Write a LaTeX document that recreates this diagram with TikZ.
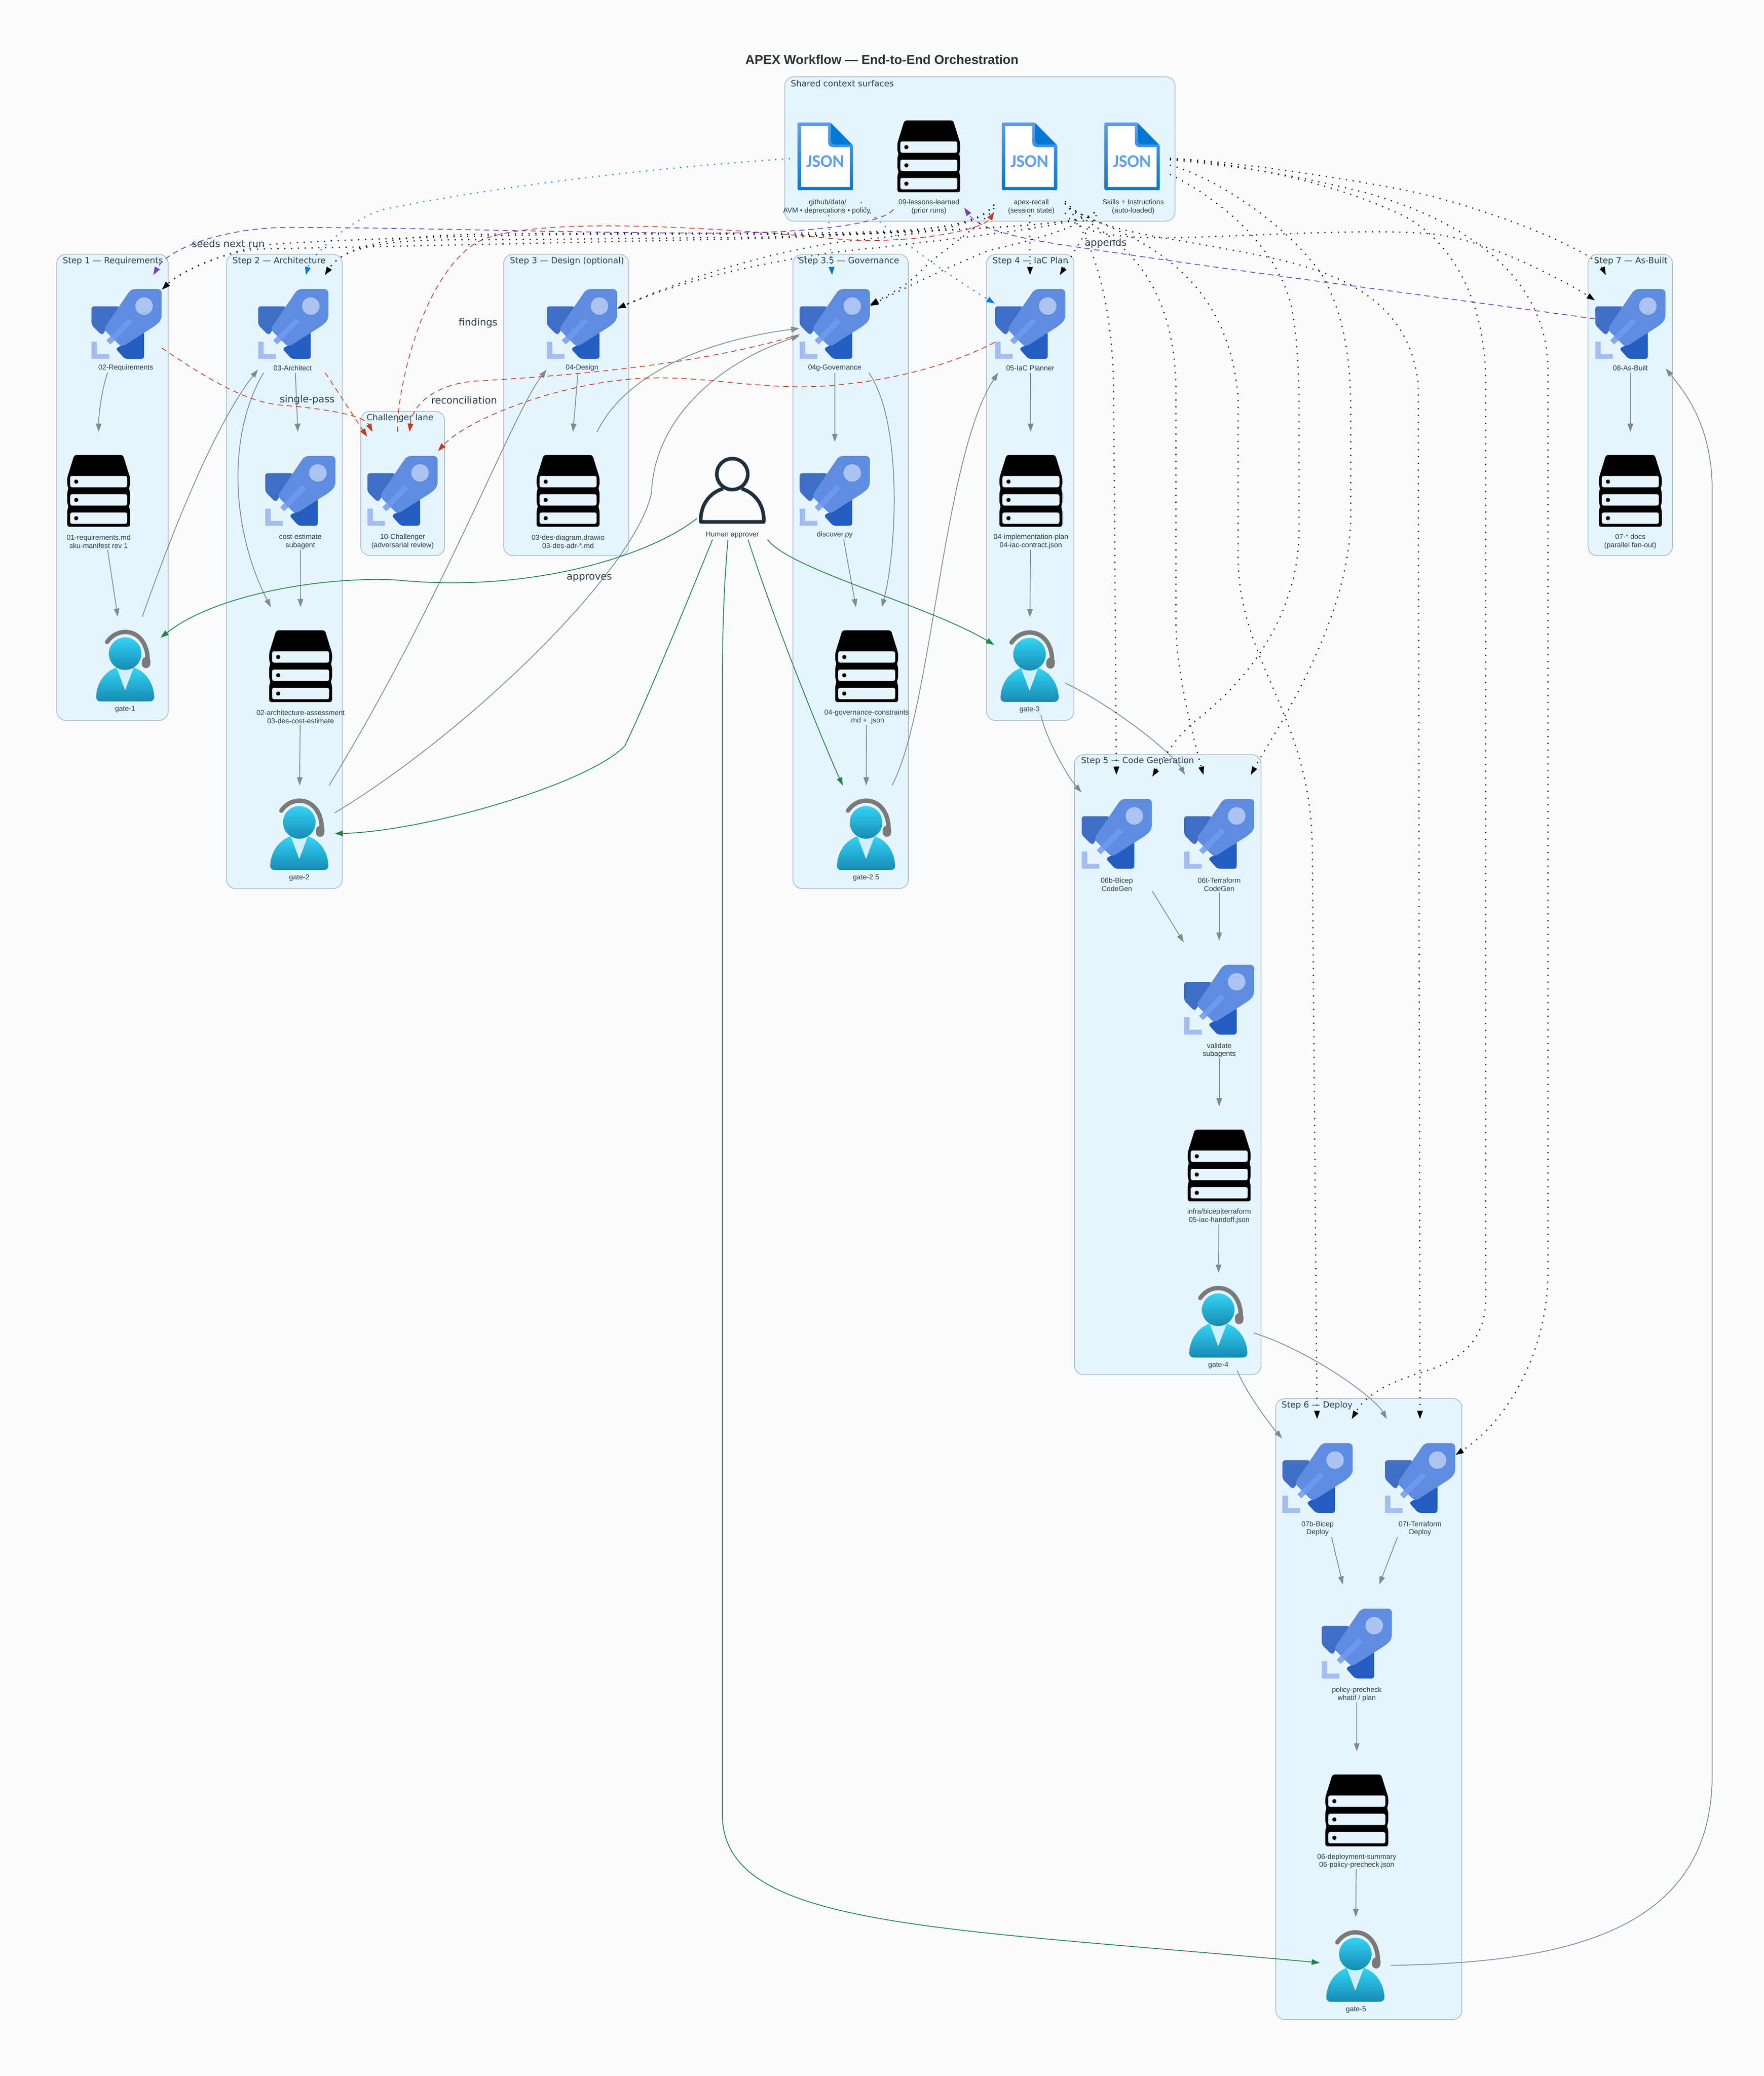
\documentclass[tikz,border=0pt]{standalone}
\usepackage{fontspec}
\setmainfont{Liberation Sans}
\newfontfamily\dejavu{DejaVu Sans}
\newfontfamily\carlito{Carlito}
\usetikzlibrary{arrows.meta}
\definecolor{pagebg}{HTML}{FBFCFD}
\definecolor{lanefill}{HTML}{E5F4FD}
\definecolor{laneline}{HTML}{AEBAC4}
\definecolor{inkdark}{HTML}{2C3E50}
\definecolor{headink}{HTML}{2B3033}
\definecolor{flowgray}{HTML}{7F8C8D}
\definecolor{okgreen}{HTML}{1E8449}
\definecolor{redline}{HTML}{C43A22}
\definecolor{purpleline}{HTML}{6F42C1}
\definecolor{blueline}{HTML}{0078D4}
\tikzset{
  rocketfig/.pic={
    \begin{scope}[x=.0917pt,y=-.0917pt,shift={(-319,-317)}]
      \fill[rounded corners=2pt,fill={rgb,255:red,62;green,110;blue,197}] (30,172) -- (260,172) -- (130,395) -- (113,408) -- (30,325) -- cycle;
      \fill[rounded corners=2pt,fill={rgb,255:red,35;green,93;blue,191}] (463,380) -- (463,605) -- (305,605) -- (228,520) -- (380,440) -- cycle;
      \fill[rounded corners=3pt,fill={rgb,255:red,93;green,140;blue,224}] (355,30) -- (608,30) -- (608,280) -- (565,325) -- (278,508) -- (130,360) -- cycle;
      \fill[fill={rgb,255:red,171;green,195;blue,240}] (463,170) circle[radius=6.6pt];
      \fill[fill={rgb,255:red,108;green,153;blue,238}] (335,270) -- (370,300) -- (218,455) -- (185,420) -- cycle;
      \fill[fill={rgb,255:red,134;green,168;blue,236}] (185,420) -- (218,455) -- (185,485) -- (153,452) -- cycle;
      \fill[fill={rgb,255:red,163;green,189;blue,240}] (30,463) -- (75,463) -- (75,565) -- (175,565) -- (175,605) -- (30,605) -- cycle;
    \end{scope}
  },
  serverfig/.pic={
    \begin{scope}[x=.092pt,y=-.092pt,shift={(-1120,-322)}]
      \fill[black,rounded corners=1.6pt] (920,28) -- (1320,28) -- (1378,215) -- (1378,280) -- (1366,298) -- (1378,330) -- (1378,425) -- (1366,448) -- (1378,480) -- (1378,617) -- (862,617) -- (862,480) -- (874,448) -- (862,425) -- (862,330) -- (874,298) -- (862,280) -- (862,215) -- cycle;
      \fill[lanefill,rounded corners=1.4pt] (886,200) rectangle (1354,293);
      \fill[lanefill,rounded corners=1.4pt] (886,350) rectangle (1354,443);
      \fill[lanefill,rounded corners=1.4pt] (886,500) rectangle (1354,593);
      \fill[black] (936,247) circle[radius=1.6pt];
      \fill[black] (936,397) circle[radius=1.6pt];
      \fill[black] (936,547) circle[radius=1.6pt];
    \end{scope}
  },
  jsonfig/.pic={
    \begin{scope}[x=.092pt,y=-.092pt,shift={(-268,-325)}]
      \shade[top color={rgb,255:red,94;green,160;blue,239},bottom color=blueline,rounded corners=1pt] (40,48) -- (312,48) -- (495,235) -- (495,603) -- (40,603) -- cycle;
      \fill[white] (68,76) -- (290,76) -- (290,210) .. controls (290,235) and (305,250) .. (330,250) -- (468,250) -- (468,577) -- (68,577) -- cycle;
      \fill[blueline] (314,56) -- (486,228) -- (345,228) .. controls (325,228) and (314,215) .. (314,195) -- cycle;
    \end{scope}
  },
  gatefig/.pic={
    \begin{scope}[x=.092pt,y=-.092pt,shift={(-308,-366)}]
      \draw[line width=3.3pt,line cap=round,color={rgb,255:red,122;green,122;blue,122}] (160,172) .. controls (200,115) and (255,90) .. (310,90) .. controls (420,90) and (493,190) .. (493,320);
      \draw[line width=6.4pt,line cap=round,color={rgb,255:red,122;green,122;blue,122}] (481,330) -- (479,352);
      \shade[top color={rgb,255:red,50;green,212;blue,245},bottom color={rgb,255:red,25;green,138;blue,179}] (70,620) .. controls (75,500) and (150,410) .. (238,382) -- (378,382) .. controls (470,410) and (540,500) .. (547,620) .. controls (550,645) and (530,660) .. (510,660) -- (105,660) .. controls (85,660) and (68,645) .. (70,620) -- cycle;
      \fill[fill={rgb,255:red,207;green,241;blue,251}] (238,382) -- (378,382) -- (308,568) -- cycle;
      \shade[top color={rgb,255:red,50;green,212;blue,245},bottom color={rgb,255:red,25;green,138;blue,179}] (308,268) circle[radius=12.3pt];
    \end{scope}
  },
  humanfig/.pic={
    \draw[line width=2.7pt,color={rgb,255:red,31;green,45;blue,61}] (0,-12.6) circle[radius=11.7pt];
    \draw[line width=2.7pt,color={rgb,255:red,31;green,45;blue,61},line join=round] (-7,-1.6) .. controls (-17,1.4) and (-23.8,10.4) .. (-23.8,22) -- (-23.8,23.5) -- (23.8,23.5) -- (23.8,22) .. controls (23.8,10.4) and (17,1.4) .. (7,-1.6);
  }
}
\begin{document}
\begin{tikzpicture}[x=1pt,y=-1pt,
  lane/.style={rectangle,draw=laneline,fill=lanefill,line width=.55pt,rounded corners=7pt,
    inner sep=0,outer sep=0},
  lanetitle/.style={anchor=west,inner sep=0,text=inkdark,font=\dejavu\fontsize{6.4}{7.6}\selectfont},
  edgetext/.style={inner sep=0,text=inkdark,font=\dejavu\fontsize{7.4}{8.8}\selectfont},
  iconcap/.style={inner sep=0,align=center,text=inkdark,font=\fontsize{5.4}{6.1}\selectfont},
  mainhead/.style={inner sep=0,text=headink,font=\bfseries\fontsize{9.7}{12}\selectfont},
  jsonmark/.style={inner sep=0,text={rgb,255:red,94;green,160;blue,239},font=\carlito\bfseries\fontsize{13.4}{15}\selectfont},
  iconbox/.style={rectangle,inner sep=0,outer sep=0,minimum width=53.5pt,minimum height=73.7pt},
  tall/.style={minimum height=89pt},
  rocket/.style={iconbox,path picture={\pic at (path picture bounding box.center) {rocketfig};}},
  server/.style={iconbox,path picture={\pic at (path picture bounding box.center) {serverfig};}},
  jsonfile/.style={iconbox,path picture={\pic at (path picture bounding box.center) {jsonfig};}},
  gate/.style={iconbox,path picture={\pic at (path picture bounding box.center) {gatefig};}},
  person/.style={iconbox,path picture={\pic at (path picture bounding box.center) {humanfig};}},
  flow/.style={draw=flowgray,line width=.6pt,-{Triangle[length=6.2pt,width=4.2pt]}},
  approve/.style={draw=okgreen,line width=.6pt,-{Triangle[length=6.2pt,width=4.2pt]}},
  challenge/.style={draw=redline,line width=.55pt,dash pattern=on 4pt off 3pt,-{Triangle[length=6.2pt,width=4.2pt]}},
  learn/.style={draw=purpleline,line width=.6pt,dash pattern=on 4pt off 3pt,-{Triangle[length=6.2pt,width=4.2pt]}},
  loaded/.style={draw=black,line width=.85pt,dash pattern=on .85pt off 4.3pt,-{Triangle[length=6.2pt,width=4.2pt]}},
  feed/.style={draw=blueline,line width=.85pt,dash pattern=on .85pt off 4.3pt,-{Triangle[length=6.2pt,width=4.2pt]}}]
  \useasboundingbox (0,0) rectangle (1332,1567.6);
  \fill[pagebg] (0,0) rectangle (1332,1567.6);
  \node[mainhead] (title) at (666,45) {APEX Workflow — End-to-End Orchestration};

  \node[lane,minimum width=294.8pt,minimum height=109pt] (shared) at (740,112.5) {};
  \node[lane,minimum width=84.2pt,minimum height=352pt] (stepone) at (84.9,368) {};
  \node[lane,minimum width=87.5pt,minimum height=479pt] (steptwo) at (214.75,431.5) {};
  \node[lane,minimum width=63.4pt,minimum height=109pt] (challane) at (304.1,365.1) {};
  \node[lane,minimum width=94.4pt,minimum height=227.6pt] (stepthree) at (427.6,305.8) {};
  \node[lane,minimum width=87.2pt,minimum height=479pt] (stepgov) at (642.4,431.5) {};
  \node[lane,minimum width=66pt,minimum height=352pt] (stepfour) at (778,368) {};
  \node[lane,minimum width=63.9pt,minimum height=227.6pt] (stepseven) at (1231.15,305.8) {};
  \node[lane,minimum width=140.9pt,minimum height=468.2pt] (stepfive) at (881.85,803.9) {};
  \node[lane,minimum width=140.6pt,minimum height=469pt] (stepsix) at (1033.7,1290.5) {};

  \node[lanetitle] (sharedt) at (597,63) {Shared context surfaces};
  \node[lanetitle] (steponet) at (47.2,197.3) {Step 1 — Requirements};
  \node[lanetitle] (steptwot) at (175.4,197.3) {Step 2 — Architecture};
  \node[lanetitle] (challanet) at (276.7,315.6) {Challenger lane};
  \node[lanetitle] (stepthreet) at (384.8,197.3) {Step 3 — Design (optional)};
  \node[lanetitle] (stepgovt) at (603,197.3) {Step 3.5 — Governance};
  \node[lanetitle] (stepfourt) at (749.4,197.3) {Step 4 — IaC Plan};
  \node[lanetitle] (stepsevent) at (1203.6,197.3) {Step 7 — As-Built};
  \node[lanetitle] (stepfivet) at (816.2,574.6) {Step 5 — Code Generation};
  \node[lanetitle] (stepsixt) at (967.7,1061.2) {Step 6 — Deploy};

  \node[jsonfile,tall] (data) at (623.3,118) {};
  \node[server,tall] (lessons) at (701.4,118) {};
  \node[jsonfile,tall] (recall) at (777.5,118) {};
  \node[jsonfile,tall,minimum width=57pt] (skills) at (855,118) {};
  \node[jsonmark] (datamark) at (623.3,121.7) {JSON};
  \node[jsonmark] (recallmark) at (777.5,121.7) {JSON};
  \node[jsonmark] (skillsmark) at (855,121.7) {JSON};
  \node[iconcap] (datacap) at (624.3,156.1) {.github/data/\\AVM • deprecations • policy};
  \node[iconcap] (lessonscap) at (701.5,156.1) {09-lessons-learned\\(prior runs)};
  \node[iconcap] (recallcap) at (778.8,156.1) {apex-recall\\(session state)};
  \node[iconcap] (skillscap) at (855.8,156.1) {Skills + Instructions\\(auto-loaded)};

  \node[rocket] (req) at (95.6,244.6) {};
  \node[iconcap] (reqcap) at (95,277.8) {02-Requirements};
  \node[server,tall] (reqdoc) at (74.5,370.6) {};
  \node[iconcap] (reqdoccap) at (74.5,408.9) {01-requirements.md\\sku-manifest rev 1};
  \node[gate] (gateone) at (94.5,502.6) {};
  \node[iconcap] (gateonecap) at (94.5,535.6) {gate-1};

  \node[rocket] (arch) at (221.5,244.6) {};
  \node[iconcap] (archcap) at (221,277.8) {03-Architect};
  \node[rocket,tall] (cost) at (226.8,370.6) {};
  \node[iconcap] (costcap) at (226.8,408.9) {cost-estimate\\subagent};
  \node[server,tall,minimum width=64pt] (archdoc) at (227,503) {};
  \node[iconcap] (archdoccap) at (227,541.3) {02-architecture-assessment\\03-des-cost-estimate};
  \node[gate] (gatetwo) at (226,630) {};
  \node[iconcap] (gatetwocap) at (226,663) {gate-2};

  \node[rocket,tall] (chall) at (304,370.6) {};
  \node[iconcap] (challcap) at (304,408.9) {10-Challenger\\(adversarial review)};

  \node[rocket] (design) at (439.5,244.6) {};
  \node[iconcap] (designcap) at (439.5,277.8) {04-Design};
  \node[server,tall] (designdoc) at (429,370.6) {};
  \node[iconcap] (designdoccap) at (429,408.9) {03-des-diagram.drawio\\03-des-adr-*.md};

  \node[person] (human) at (553,370.6) {};
  \node[iconcap] (humancap) at (553,404) {Human approver};

  \node[rocket] (gov) at (630.4,244.6) {};
  \node[iconcap] (govcap) at (630.4,277.8) {04g-Governance};
  \node[rocket] (discover) at (630.4,370.6) {};
  \node[iconcap] (discovercap) at (630.4,403.8) {discover.py};
  \node[server,tall,minimum width=64pt] (govdoc) at (654.5,503) {};
  \node[iconcap] (govdoccap) at (654.5,541.3) {04-governance-constraints\\.md + .json};
  \node[gate] (gatetwofive) at (654,630) {};
  \node[iconcap] (gatetwofivecap) at (654,663) {gate-2.5};

  \node[rocket] (iac) at (778,244.6) {};
  \node[iconcap] (iaccap) at (778,277.8) {05-IaC Planner};
  \node[server,tall] (iacdoc) at (778.5,370.6) {};
  \node[iconcap] (iacdoccap) at (778.5,408.9) {04-implementation-plan\\04-iac-contract.json};
  \node[gate] (gatethree) at (777.5,503) {};
  \node[iconcap] (gatethreecap) at (777.5,536) {gate-3};

  \node[rocket] (asbuilt) at (1231.2,244.6) {};
  \node[iconcap] (asbuiltcap) at (1231.2,277.8) {08-As-Built};
  \node[server,tall] (asbuiltdoc) at (1231.2,370.6) {};
  \node[iconcap] (asbuiltdoccap) at (1231.2,408.9) {07-* docs\\(parallel fan-out)};

  \node[rocket,tall] (bicgen) at (843.4,629.6) {};
  \node[iconcap] (bicgencap) at (843.4,667.9) {06b-Bicep\\CodeGen};
  \node[rocket,tall] (tfgen) at (920.7,629.6) {};
  \node[iconcap] (tfgencap) at (920.7,667.9) {06t-Terraform\\CodeGen};
  \node[rocket,tall] (validate) at (920.7,754.8) {};
  \node[iconcap] (validatecap) at (920.7,793.1) {validate\\subagents};
  \node[server,tall] (infradoc) at (920.7,880) {};
  \node[iconcap] (infradoccap) at (920.7,918.3) {infra/bicep|terraform\\05-iac-handoff.json};
  \node[gate] (gatefour) at (920,998) {};
  \node[iconcap] (gatefourcap) at (920,1031) {gate-4};

  \node[rocket,tall] (bicdep) at (995,1116) {};
  \node[iconcap] (bicdepcap) at (995,1154.3) {07b-Bicep\\Deploy};
  \node[rocket,tall] (tfdep) at (1072.4,1116) {};
  \node[iconcap] (tfdepcap) at (1072.4,1154.3) {07t-Terraform\\Deploy};
  \node[rocket,tall] (policy) at (1024.6,1241) {};
  \node[iconcap] (policycap) at (1024.6,1279.3) {policy-precheck\\whatif / plan};
  \node[server,tall] (deploydoc) at (1024.6,1367) {};
  \node[iconcap] (deploydoccap) at (1024.6,1405.3) {06-deployment-summary\\06-policy-precheck.json};
  \node[gate] (gatefive) at (1023.5,1484.5) {};
  \node[iconcap] (gatefivecap) at (1024,1517.5) {gate-5};

  \draw[flow] (req) .. controls (78,290) and (74.5,310) .. (reqdoc);
  \draw[flow] (reqdoc) -- (gateone);
  \draw[flow] (gateone) .. controls (132,396) and (163,320) .. (arch);
  \draw[flow] (arch) -- (cost);
  \draw[flow] (arch) .. controls (172.8,325) and (172.8,396) .. (archdoc);
  \draw[flow] (cost) -- (archdoc);
  \draw[flow] (archdoc) -- (gatetwo);
  \draw[flow] (gatetwo) .. controls (336,450) and (386.5,313) .. (design);
  \draw[flow] (design) -- (designdoc);
  \draw[flow] (designdoc) .. controls (474,279) and (540,256) .. (gov);
  \draw[flow] (gatetwo) .. controls (355,552) and (480,430) .. (492,372) .. controls (494,318) and (540,275) .. (gov);
  \draw[flow] (gov) -- (discover);
  \draw[flow] (gov) .. controls (681.6,318) and (677.5,414) .. (govdoc);
  \draw[flow] (discover) -- (govdoc);
  \draw[flow] (govdoc) -- (gatetwofive);
  \draw[flow] (gatetwofive) .. controls (704,536) and (712,345) .. (iac);
  \draw[flow] (iac) -- (iacdoc);
  \draw[flow] (iacdoc) -- (gatethree);
  \draw[flow] (gatethree) .. controls (840,532.7) and (885,568) .. (tfgen);
  \draw[flow] (gatethree) .. controls (790.3,558.5) and (805.6,585.4) .. (bicgen);
  \draw[flow] (bicgen) -- (validate);
  \draw[flow] (tfgen) -- (validate);
  \draw[flow] (validate) -- (infradoc);
  \draw[flow] (infradoc) -- (gatefour);
  \draw[flow] (gatefour) .. controls (989.5,1020) and (1037.8,1054.8) .. (tfdep);
  \draw[flow] (gatefour) .. controls (941,1052) and (960.5,1077.4) .. (bicdep);
  \draw[flow] (bicdep) -- (policy);
  \draw[flow] (tfdep) -- (policy);
  \draw[flow] (policy) -- (deploydoc);
  \draw[flow] (deploydoc) -- (gatefive);
  \draw[flow] (gatefive) .. controls (1180,1482) and (1293,1460) .. (1293,1340) -- (1293,370) .. controls (1293,320) and (1271,294.7) .. (asbuilt);
  \draw[flow] (asbuilt) -- (asbuiltdoc);

  \draw[approve] (human) .. controls (490,420) and (400,448) .. (300,438) .. controls (245,435) and (163,448.6) .. (gateone);
  \draw[approve] (human) .. controls (520,452) and (490,525) .. (472,563) .. controls (445,592) and (320,628) .. (gatetwo);
  \draw[approve] (human) .. controls (546.4,445) and (545.5,480) .. (545.5,520) -- (545.5,1370) .. controls (545.5,1455) and (700,1455) .. (gatefive);
  \draw[approve] (human) .. controls (589,482) and (627.9,575) .. (gatetwofive);
  \draw[approve] (human) .. controls (596,430) and (701,457) .. (gatethree);

  \draw[challenge] (req) .. controls (165,292) and (190,304) .. (213,306) .. controls (240,308) and (274.6,313) .. (chall);
  \draw[challenge] (arch) -- (chall);
  \draw[challenge] (chall) .. controls (298.6,303.7) and (315,215) .. (357,185) .. controls (385,165) and (500,168) .. (633,180.5) .. controls (680,185) and (741.5,174.7) .. (recall);
  \draw[challenge] (gov) .. controls (529.7,275) and (440,283) .. (358.6,287.8) .. controls (330,290) and (311.8,304.4) .. (chall);
  \draw[challenge] (iac) .. controls (704,283) and (640,293) .. (598.8,292) .. controls (555,291) and (520,283) .. (480,286) .. controls (420,290) and (352,317) .. (chall);

  \draw[learn] (lessons) .. controls (668,168) and (620,176) .. (540,176) .. controls (430,176) and (330,172) .. (217,171.7) .. controls (170,172) and (127,187.4) .. (req);
  \draw[learn] (asbuilt) .. controls (1100,226) and (950,207) .. (827,188.6) .. controls (790,183) and (742,177) .. (lessons);

  \draw[feed] (data) .. controls (490,127) and (380,140) .. (290,158) .. controls (265,165) and (234.8,193) .. (arch);
  \draw[feed] (data) -- (gov);
  \draw[feed] (data) .. controls (668.7,177) and (737.5,221.2) .. (iac);

  \draw[loaded] (recall) .. controls (738,172) and (690,178) .. (579,177) .. controls (480,176) and (330,177) .. (211,184) .. controls (180,186) and (137.8,203.6) .. (req);
  \draw[loaded] (skills) .. controls (820,170) and (740,173) .. (579,180) .. controls (480,182) and (300,186) .. (196,188) .. controls (170,190) and (137.8,203.6) .. (req);
  \draw[loaded] (recall) .. controls (738,172) and (700,176) .. (579,176) .. controls (480,176) and (400,176) .. (358.6,177) .. controls (310,178) and (262,182) .. (arch);
  \draw[loaded] (skills) .. controls (820,170) and (740,173) .. (579,179) .. controls (480,180) and (400,181) .. (358.6,181) .. controls (310,181) and (262,182) .. (arch);
  \draw[loaded] (recall) .. controls (738,172) and (700,176) .. (640,182) .. controls (580,190) and (519,209.8) .. (design);
  \draw[loaded] (skills) .. controls (820,170) and (720,180) .. (663.8,187) .. controls (600,192) and (519,209.8) .. (design);
  \draw[loaded] (recall) .. controls (742,170) and (712,188) .. (695,205) .. controls (686,215) and (672,222) .. (gov);
  \draw[loaded] (skills) .. controls (820,170) and (779,182) .. (747,189) .. controls (720,200) and (690,214) .. (gov);
  \draw[loaded] (recall) -- (iac);
  \draw[loaded] (skills) -- (iac);
  \draw[loaded] (recall) .. controls (817,170) and (841,210) .. (841,300) -- (bicgen);
  \draw[loaded] (recall) .. controls (818,172) and (885,185) .. (888,290) -- (888,470) .. controls (888,510) and (903,563.6) .. (tfgen);
  \draw[loaded] (recall) .. controls (818,172) and (925,180) .. (935,300) -- (935,420) .. controls (935,500) and (990,540) .. (991,640) -- (bicdep);
  \draw[loaded] (recall) .. controls (820,172) and (870,178) .. (910,185) .. controls (970,197) and (1062,205) .. (1071,290) -- (tfdep);
  \draw[loaded] (recall) .. controls (815,178) and (850,180) .. (889,179.5) .. controls (950,178) and (1040,172) .. (1085,177) .. controls (1130,183) and (1190.3,217.4) .. (asbuilt);
  \draw[loaded] (skills) .. controls (930,122) and (1000,132) .. (1058,143) .. controls (1120,155) and (1203.5,189.4) .. (asbuilt);
  \draw[loaded] (skills) .. controls (930,125) and (980,132) .. (1033,146) .. controls (1100,165) and (1169,205) .. (1169,280) -- (1169,960) .. controls (1169,1020) and (1139,1072.7) .. (tfdep);
  \draw[loaded] (skills) .. controls (930,123) and (1000,135) .. (1058,162) .. controls (1095,180) and (1122,225) .. (1122,290) -- (1122,980) .. controls (1122,1015) and (1100,1028) .. (1074.5,1036) .. controls (1055,1042) and (1033,1050.5) .. (bicdep);
  \draw[loaded] (skills) .. controls (910,131) and (970,165) .. (1000,210) .. controls (1015,240) and (1020,270) .. (1020,310) -- (1020,390) .. controls (1020,470) and (958.6,559) .. (tfgen);
  \draw[loaded] (skills) .. controls (905,142) and (960,175) .. (975,230) .. controls (979,250) and (981,275) .. (981,310) -- (981,400) .. controls (981,470) and (935,520) .. (903,544) .. controls (888,556) and (878,573.8) .. (bicgen);

  \node[edgetext] (seedslbl) at (172.4,183.8) {seeds next run};
  \node[edgetext] (singlelbl) at (232,302) {single-pass};
  \node[edgetext] (findingslbl) at (361,244) {findings};
  \node[edgetext] (reconlbl) at (350.5,302) {reconciliation};
  \node[edgetext] (approveslbl) at (445,436.4) {approves};
  \node[edgetext] (appendslbl) at (835,183.6) {appends};
\end{tikzpicture}
\end{document}
